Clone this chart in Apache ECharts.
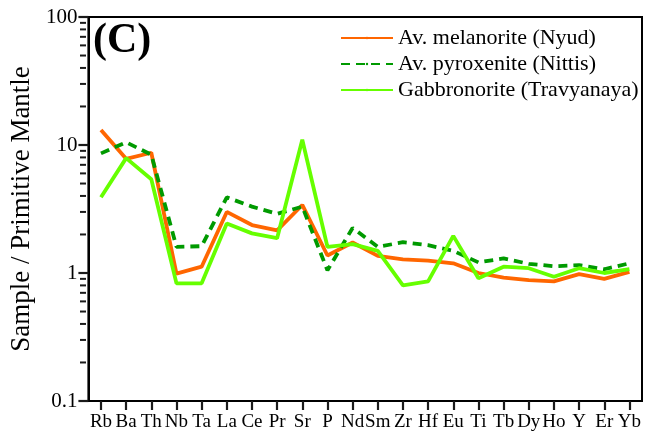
<!DOCTYPE html>
<html>
<head>
<meta charset="utf-8">
<script src="https://cdn.jsdelivr.net/npm/echarts@6/dist/echarts.min.js"></script>
<style>
  html, body { margin: 0; padding: 0; background: #fff; }
  #chart { width: 645px; height: 438px; }
</style>
</head>
<body>
<div id="chart"></div>
<script>
// Primitive-mantle normalised trace-element patterns
const elements = ['Rb','Ba','Th','Nb','Ta','La','Ce','Pr','Sr','P','Nd','Sm','Zr','Hf','Eu','Ti','Tb','Dy','Ho','Y','Er','Yb'];

const melanoriteNyud = [13.1, 7.8, 8.7, 0.99, 1.12, 3.0, 2.37, 2.15, 3.4, 1.37, 1.73, 1.36, 1.28, 1.25, 1.19, 1.0, 0.92, 0.88, 0.86, 0.98, 0.90, 1.02];
const pyroxeniteNittis = [8.6, 10.5, 8.4, 1.6, 1.62, 3.9, 3.3, 2.9, 3.3, 1.05, 2.25, 1.6, 1.74, 1.65, 1.49, 1.21, 1.3, 1.18, 1.13, 1.15, 1.07, 1.19];
const gabbronoriteTravyanaya = [3.9, 7.9, 5.4, 0.83, 0.83, 2.44, 2.04, 1.87, 11.0, 1.6, 1.68, 1.49, 0.8, 0.86, 1.95, 0.91, 1.12, 1.09, 0.935, 1.09, 1.0, 1.07];

const seriesNames = ['Av. melanorite (Nyud)', 'Av. pyroxenite (Nittis)', 'Gabbronorite (Travyanaya)'];

// log-axis minor ticks: 2..9 within each decade
const decades = [0.1, 1, 10];
const minorTickValues = [];
decades.forEach(d => { for (let k = 2; k <= 9; k++) minorTickValues.push(+(d * k).toPrecision(3)); });

const serif = 'Liberation Serif, Times New Roman, serif';
const GRID_LEFT = 86;
const TICK_COLOR = '#1a1a1a';

const chart = echarts.init(document.getElementById('chart'), null, { renderer: 'canvas' });

function lineSeries(name, data, color, type) {
  return {
    name: name,
    type: 'line',
    data: data,
    symbol: 'none',
    showSymbol: false,
    lineStyle: { color: color, width: 3.8, type: type },
    itemStyle: { color: color },
    emphasis: { disabled: true },
    animation: false
  };
}

const titleGraphic = {
  type: 'text', left: 93, top: 20,
  style: { text: '(C)', font: 'bold 42px ' + serif, fill: '#000' }
};

chart.setOption({
  animation: false,
  backgroundColor: '#fff',
  textStyle: { fontFamily: serif },
  grid: {
    left: GRID_LEFT, top: 17, width: 556, height: 384,
    show: true, borderColor: '#000', borderWidth: 2, backgroundColor: 'transparent'
  },
  legend: {
    orient: 'vertical',
    left: 340, top: 27,
    padding: 0,
    itemWidth: 52, itemHeight: 3, itemGap: 4,
    data: seriesNames,
    textStyle: { fontFamily: serif, fontSize: 22, color: '#000', lineHeight: 22 }
  },
  xAxis: {
    type: 'category',
    data: elements,
    boundaryGap: true,
    axisLine: { show: true, lineStyle: { color: '#000', width: 2 } },
    axisTick: { show: true, alignWithLabel: true, length: 9, lineStyle: { color: TICK_COLOR, width: 2.2 } },
    axisLabel: { show: true, interval: 0, color: '#000', fontFamily: serif, fontSize: 19, margin: 12 },
    splitLine: { show: false }
  },
  yAxis: {
    type: 'log',
    logBase: 10,
    min: 0.1, max: 100,
    name: 'Sample / Primitive Mantle',
    nameLocation: 'middle',
    nameGap: 42,
    nameTextStyle: { fontFamily: serif, fontSize: 27, color: '#000' },
    axisLine: { show: true, lineStyle: { color: '#000', width: 2 } },
    axisTick: { show: true, length: 10, lineStyle: { color: TICK_COLOR, width: 2.2 } },
    axisLabel: { show: true, color: '#000', fontFamily: serif, fontSize: 21, margin: 11,
      formatter: v => String(+v.toPrecision(3)) },
    splitLine: { show: false },
    minorTick: { show: false }
  },
  graphic: [titleGraphic],
  series: [
    lineSeries(seriesNames[0], melanoriteNyud, '#ff6600', 'solid'),
    lineSeries(seriesNames[1], pyroxeniteNittis, '#009a00', [9, 6]),
    lineSeries(seriesNames[2], gabbronoriteTravyanaya, '#66ff00', 'solid')
  ]
});

// short outward minor ticks placed through the y-axis scale
const minorTicks = minorTickValues.map(v => {
  const y = chart.convertToPixel({ yAxisIndex: 0 }, v);
  return {
    type: 'line', silent: true,
    shape: { x1: GRID_LEFT - 6, y1: y, x2: GRID_LEFT, y2: y },
    style: { stroke: TICK_COLOR, lineWidth: 2 }
  };
});
chart.setOption({ graphic: [titleGraphic].concat(minorTicks) }, { replaceMerge: ['graphic'] });
</script>
</body>
</html>
